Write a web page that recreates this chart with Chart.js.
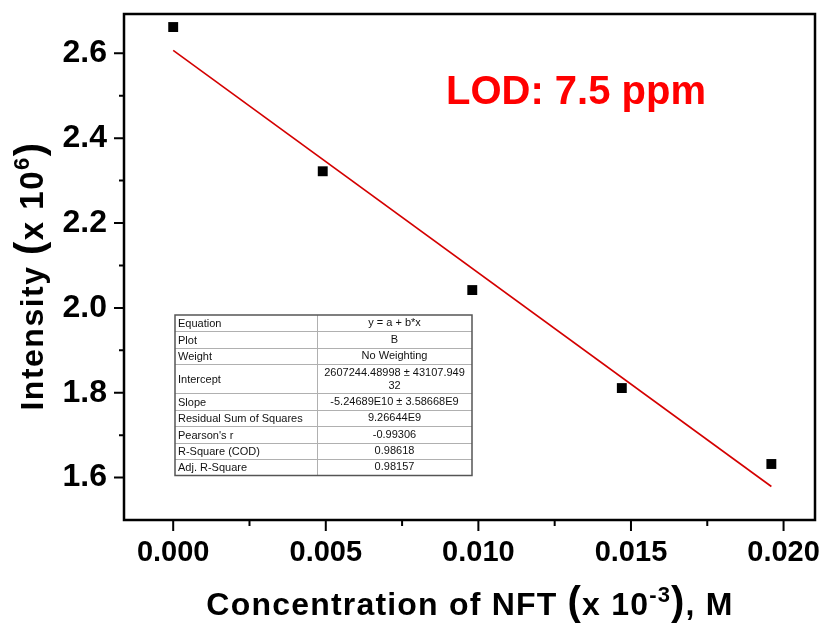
<!DOCTYPE html>
<html>
<head>
<meta charset="utf-8">
<script src="https://cdn.jsdelivr.net/npm/chart.js@4.4.0/dist/chart.umd.min.js"></script>
<style>
  html, body { margin: 0; padding: 0; background: #fff; }
  #wrap { width: 823px; height: 624px; }
</style>
</head>
<body>
<div id="wrap"><canvas id="lodChart" width="823" height="624"></canvas></div>
<script>
// calibration points
const concX = [0, 0.0049, 0.0098, 0.0147, 0.0196];
const intensityY = [2.662, 2.322, 2.042, 1.811, 1.632];

// linear fit line (ends of the red line)
const fitX = [0, 0.0196];
const fitY = [2.607, 1.579];

const xTicks = [0, 0.005, 0.010, 0.015, 0.020];
const yTicks = [1.6, 1.8, 2.0, 2.2, 2.4, 2.6];

const fitTable = [
    ["Equation", "y = a + b*x"],
    ["Plot", "B"],
    ["Weight", "No Weighting"],
    ["Intercept", "2607244.48998 ± 43107.949", "32"],
    ["Slope", "-5.24689E10 ± 3.58668E9"],
    ["Residual Sum of Squares", "9.26644E9"],
    ["Pearson's r", "-0.99306"],
    ["R-Square (COD)", "0.98618"],
    ["Adj. R-Square", "0.98157"]
];

const FONT = "'Liberation Sans', Arial, sans-serif";

// frame, minor/major ticks, titles, fit table, LOD label
const decorPlugin = {
    id: 'decor',
    afterDraw(chart) {
        const ctx = chart.ctx;
        const area = chart.chartArea;
        const xs = chart.scales.x;
        const ys = chart.scales.y;
        ctx.save();

        // ticks
        ctx.strokeStyle = '#000';
        ctx.lineWidth = 2;
        ctx.beginPath();
        xTicks.forEach(function(v, i) {
            let px = xs.getPixelForValue(v);
            ctx.moveTo(px, area.bottom); ctx.lineTo(px, area.bottom + 11);
            if (i < xTicks.length - 1) {
                let mx = xs.getPixelForValue((v + xTicks[i + 1]) / 2);
                ctx.moveTo(mx, area.bottom); ctx.lineTo(mx, area.bottom + 6);
            }
        });
        yTicks.forEach(function(v, i) {
            let py = ys.getPixelForValue(v);
            ctx.moveTo(area.left, py); ctx.lineTo(area.left - 10, py);
            let step = (yTicks[1] - yTicks[0]) / 2;
            let my = ys.getPixelForValue(v + step);
            if (my > area.top) { ctx.moveTo(area.left, my); ctx.lineTo(area.left - 5, my); }
            if (i === 0) {
                let my0 = ys.getPixelForValue(v - step);
                if (my0 < area.bottom) { ctx.moveTo(area.left, my0); ctx.lineTo(area.left - 5, my0); }
            }
        });
        ctx.stroke();

        // frame
        ctx.lineWidth = 2.5;
        ctx.strokeRect(area.left, area.top, area.right - area.left, area.bottom - area.top);

        // axis titles with superscripts
        function drawPieces(pieces, cx, cy, spacing) {
            let total = 0;
            pieces.forEach(function(p) {
                ctx.font = 'bold ' + p.size + 'px ' + FONT;
                p.w = ctx.measureText(p.t).width + spacing * p.t.length;
                total += p.w;
            });
            let x = cx - total / 2;
            ctx.textAlign = 'left';
            ctx.textBaseline = 'alphabetic';
            pieces.forEach(function(p) {
                ctx.font = 'bold ' + p.size + 'px ' + FONT;
                let cxp = x;
                for (let k = 0; k < p.t.length; k++) {
                    ctx.fillText(p.t[k], cxp, cy - (p.rise || 0));
                    cxp += ctx.measureText(p.t[k]).width + spacing;
                }
                x += p.w;
            });
        }
        ctx.fillStyle = '#000';
        drawPieces([
            {t: 'Concentration of NFT ', size: 32},
            {t: '(', size: 40},
            {t: 'x 10', size: 32},
            {t: '-3', size: 22, rise: 13},
            {t: ')', size: 40},
            {t: ', M', size: 32}
        ], 470, 615, 1.2);

        ctx.save();
        ctx.translate(43, 276);
        ctx.rotate(-Math.PI / 2);
        drawPieces([
            {t: 'Intensity ', size: 32},
            {t: '(', size: 40},
            {t: 'x 10', size: 33},
            {t: '6', size: 22, rise: 14},
            {t: ')', size: 40}
        ], 0, 0, 1.5);
        ctx.restore();

        // LOD label
        ctx.fillStyle = '#ff0000';
        ctx.font = 'bold 40px ' + FONT;
        ctx.textAlign = 'left';
        ctx.fillText('LOD: 7.5 ppm', 446, 104);

        // fit parameter table
        const tl = 175, tr = 472, tdiv = 317, ttop = 315;
        const rowH = 16.4, tallH = 29.3;
        let y = ttop;
        ctx.fillStyle = '#fff';
        ctx.fillRect(tl, ttop, tr - tl, rowH * 8 + tallH);
        ctx.font = '11px ' + FONT;
        ctx.textBaseline = 'middle';
        fitTable.forEach(function(row, i) {
            let h = row.length > 2 ? tallH : rowH;
            ctx.fillStyle = '#111';
            ctx.textAlign = 'left';
            ctx.fillText(row[0], tl + 3, y + h / 2 + 1);
            ctx.textAlign = 'center';
            let cx = (tdiv + tr) / 2;
            if (row.length > 2) {
                ctx.fillText(row[1], cx, y + h / 2 - 6);
                ctx.fillText(row[2], cx, y + h / 2 + 7);
            } else {
                ctx.fillText(row[1], cx, y + h / 2);
            }
            y += h;
            if (i < fitTable.length - 1) {
                ctx.strokeStyle = '#b0b0b0';
                ctx.lineWidth = 1;
                ctx.beginPath();
                ctx.moveTo(tl, Math.round(y) + 0.5); ctx.lineTo(tr, Math.round(y) + 0.5);
                ctx.stroke();
            }
        });
        ctx.strokeStyle = '#b0b0b0';
        ctx.lineWidth = 1;
        ctx.beginPath();
        ctx.moveTo(tdiv + 0.5, ttop); ctx.lineTo(tdiv + 0.5, y);
        ctx.stroke();
        ctx.strokeStyle = '#555';
        ctx.lineWidth = 1.5;
        ctx.strokeRect(tl, ttop, tr - tl, y - ttop);

        ctx.restore();
    }
};

function noOverflow(scale) {
    scale.paddingLeft = 0;
    scale.paddingRight = 0;
    scale.paddingTop = 0;
    scale.paddingBottom = 0;
}

document.addEventListener("DOMContentLoaded", function() {
    const ctx = document.getElementById("lodChart").getContext("2d");

    const pointData = concX.map(function(x, i) { return {x: x, y: intensityY[i]}; });
    const lineData = fitX.map(function(x, i) { return {x: x, y: fitY[i]}; });

    new Chart(ctx, {
        type: 'scatter',
        data: {
            datasets: [{
                label: 'B',
                data: pointData,
                pointStyle: 'rect',
                pointRadius: 7,
                pointHoverRadius: 7,
                backgroundColor: '#000',
                borderColor: '#000',
                borderWidth: 0,
                order: 1
            }, {
                label: 'Linear Fit',
                data: lineData,
                showLine: true,
                pointRadius: 0,
                borderColor: '#d40000',
                borderWidth: 1.6,
                fill: false,
                order: 2
            }]
        },
        options: {
            responsive: false,
            animation: false,
            devicePixelRatio: 1,
            layout: { padding: { top: 14, right: 8, left: 0, bottom: 0 } },
            plugins: {
                legend: { display: false },
                tooltip: { enabled: false }
            },
            scales: {
                x: {
                    type: 'linear',
                    min: -0.001612,
                    max: 0.02103,
                    afterBuildTicks: function(scale) {
                        scale.ticks = xTicks.map(function(v) { return {value: v}; });
                    },
                    afterFit: function(scale) { scale.height = 104; noOverflow(scale); },
                    grid: { display: false, drawTicks: false },
                    border: { display: false },
                    ticks: {
                        padding: 16,
                        color: '#000',
                        font: { family: FONT, size: 29, weight: 'bold' },
                        maxRotation: 0,
                        callback: function(v) { return Number(v).toFixed(3); }
                    }
                },
                y: {
                    type: 'linear',
                    min: 1.5,
                    max: 2.6927,
                    afterBuildTicks: function(scale) {
                        scale.ticks = yTicks.map(function(v) { return {value: v}; });
                    },
                    afterFit: function(scale) { scale.width = 124; noOverflow(scale); },
                    grid: { display: false, drawTicks: false },
                    border: { display: false },
                    ticks: {
                        padding: 17,
                        color: '#000',
                        font: { family: FONT, size: 32, weight: 'bold' },
                        callback: function(v) { return Number(v).toFixed(1); }
                    }
                }
            }
        },
        plugins: [decorPlugin]
    });
});
</script>
</body>
</html>
